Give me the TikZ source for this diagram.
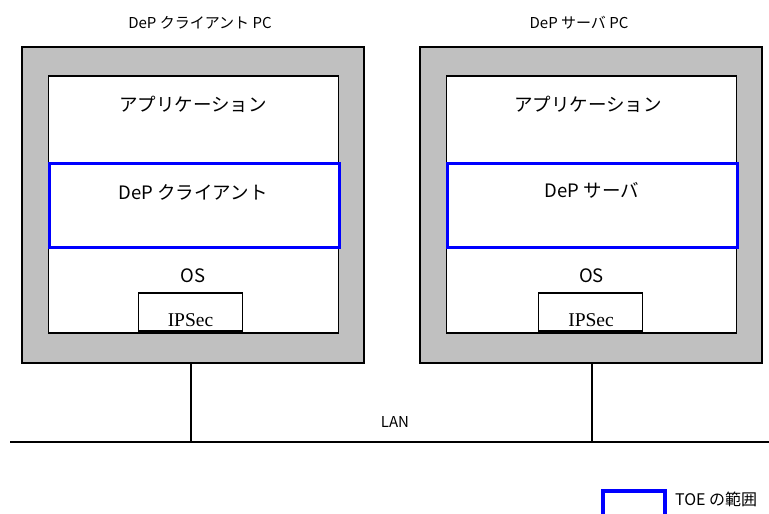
\documentclass[tikz,border=0pt]{standalone}
\usepackage{fontspec}
\setmainfont{Noto Sans CJK JP}
\newfontfamily\ipsecfont{Liberation Serif}
\usetikzlibrary{positioning}
\definecolor{pcgray}{RGB}{192,192,192}
\definecolor{toeblue}{RGB}{0,0,255}

\begin{document}
\begin{tikzpicture}[
            x=1pt, y=-1pt, % pixel grid, y grows downwards
            pcbox/.style={draw=black, line width=1.6pt, fill=pcgray, minimum width=342pt, minimum height=316pt, inner sep=0pt}, % gray PC frame
            layerbox/.style={draw=black, line width=1.2pt, fill=white, minimum width=290pt, minimum height=257pt, inner sep=0pt}, % white software area
            toebox/.style={draw=toeblue, line width=3pt, fill=white, minimum width=290pt, minimum height=84pt, inner sep=0pt}, % TOE part
            ipsecbox/.style={draw=black, line width=1.3pt, fill=white, minimum width=104pt, minimum height=38pt, inner sep=0pt}, % IPSec module
            titletext/.style={font=\fontsize{15}{17}\selectfont, inner sep=0pt}, % text above the PCs
            layertext/.style={font=\fontsize{18.5}{21}\selectfont, inner sep=0pt}, % text inside the PCs
            ipsectext/.style={font=\ipsecfont\fontsize{19.5}{21}\selectfont, inner sep=0pt}, % serif IPSec label
            lanwire/.style={draw=black, line width=1.5pt} % network lines
            ]
        \useasboundingbox (0,0) rectangle (769,514);

                % Client PC
                \node[pcbox] (clientpc) at (193,205) {};
                \node[layerbox] (clientsw) at (193.5,204.5) {};
                \node[toebox] (clienttoe) at (194,205) {};
                \node[ipsecbox] (clientipsec) at (190.5,312) {};
                \node[titletext] (clienttitle) at (200,23) {DeP クライアント PC};
                \node[layertext] (clientapp) at (193,104) {アプリケーション};
                \node[layertext] (clientdep) at (193,192) {DeP クライアント};
                \node[layertext] (clientos) at (193,276) {OS};
                \node[ipsectext] (clientipsectext) at (190.5,320) {IPSec};

                % Server PC
                \node[pcbox] (serverpc) at (591,205) {};
                \node[layerbox] (serversw) at (591.5,204.5) {};
                \node[toebox] (servertoe) at (592,205) {};
                \node[ipsecbox] (serveripsec) at (590.5,312) {};
                \node[titletext] (servertitle) at (579,23) {DeP サーバ PC};
                \node[layertext] (serverapp) at (588,104) {アプリケーション};
                \node[layertext] (serverdep) at (592,190) {DeP サーバ};
                \node[layertext] (serveros) at (591.5,276) {OS};
                \node[ipsectext] (serveripsectext) at (591,320) {IPSec};

                % LAN
                \coordinate (lanleft) at (10,442);
                \coordinate (lanright) at (769,442);
                \coordinate (clienttap) at (191,442);
                \coordinate (servertap) at (592,442);
                \draw[lanwire, line width=2.2pt] (lanleft) -- (lanright);
                \draw[lanwire] (clientpc.south -| clienttap) -- (clienttap);
                \draw[lanwire] (serverpc.south -| servertap) -- (servertap);
                \node[titletext] (lanlabel) at (395,422) {LAN};

                % Legend
                \node[draw=toeblue, line width=3.5pt, minimum width=62pt, minimum height=40pt, inner sep=0pt] (legendbox) at (634,511) {};
                \node[font=\fontsize{16}{18}\selectfont, inner sep=0pt, anchor=west] (legendtext) at (675,499) {TOE の範囲};

            \end{tikzpicture}
\end{document}
